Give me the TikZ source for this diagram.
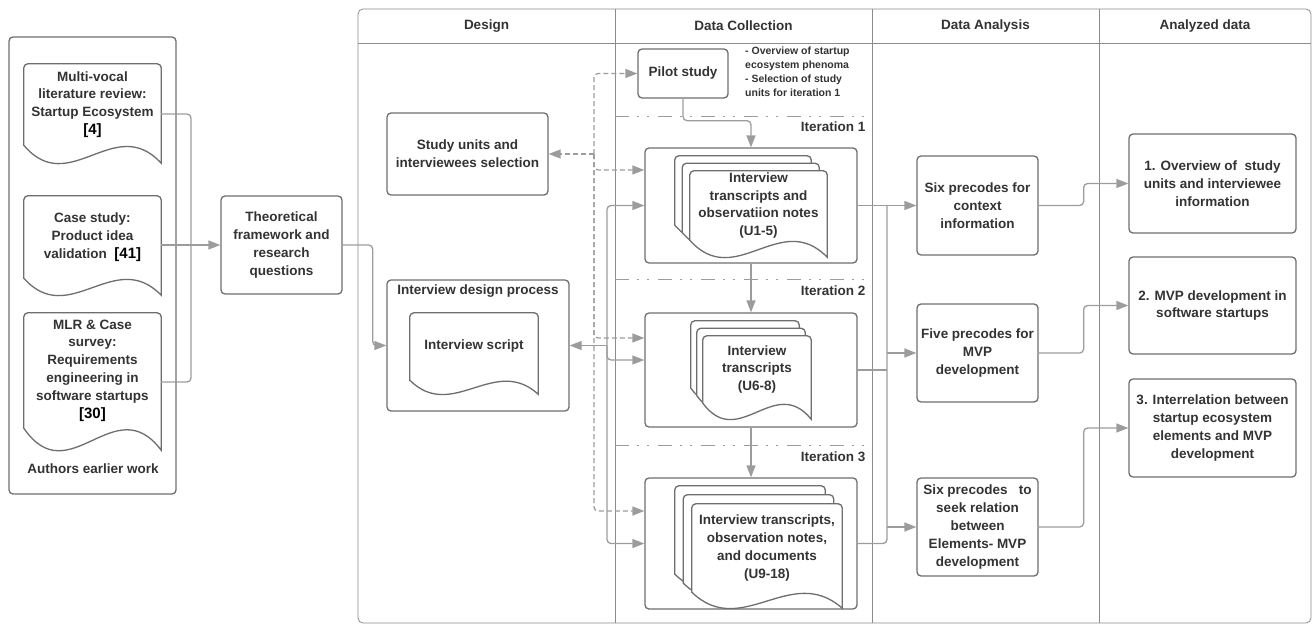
\documentclass[tikz,border=0pt]{standalone}
\usepackage{fontspec}
\setmainfont{Liberation Sans}
\usetikzlibrary{arrows.meta,calc}
\definecolor{txt}{HTML}{333333}
\definecolor{boxc}{HTML}{6E6E6E}
\definecolor{lnc}{HTML}{9C9C9C}
\definecolor{lanec}{HTML}{8C8C8C}
\tikzset{
  every node/.style={font=\fontsize{13.5}{17.8}\selectfont\bfseries, text=txt},
  box/.style={draw=boxc, line width=1.3pt, rounded corners=4pt, fill=white, align=center, inner sep=2pt},
  docnode/.style={draw=none, align=center, inner sep=0pt},
  docsty/.style={draw=boxc, line width=1.3pt, fill=white},
  line/.style={draw=lnc, line width=1.3pt},
  arrow/.style={line, -{Triangle[length=12pt,width=9pt]}},
  darrow/.style={arrow, dash pattern=on 5pt off 3pt},
  lane/.style={draw=lanec, line width=0.8pt},
  iter/.style={draw=lnc, line width=1pt, dash pattern=on 14pt off 8pt on 2pt off 8pt on 2pt off 9pt},
  small/.style={font=\fontsize{10.5}{14}\selectfont\bfseries, align=left, inner sep=0pt},
}
\newcommand\refnum[1]{{\fontsize{15}{17.8}\selectfont\color{black}#1}}
\newcommand\docshape[2]{%
  \draw[docsty] (#1.south west) [rounded corners=4pt] -- (#1.north west) -- (#1.north east) [sharp corners] -- ($(#1.south east)+(0,#2)$)
    .. controls ($(#1.south west)!0.66!(#1.south east)+(0,-1.83*#2)$) and ($(#1.south west)!0.33!(#1.south east)+(0,3.0*#2)$) .. (#1.south west) -- cycle;}
\newcommand\docnode[7]{%
  \node[docnode, minimum width=#4pt, minimum height=#5pt] (#1) at (#2,#3) {};
  \docshape{#1}{#6}
  \node[docnode] (#1-t) at (#1) {#7};}
\begin{document}
\begin{tikzpicture}[x=1pt,y=-1pt]
\useasboundingbox (0,0) rectangle (1312,624);

% ---------- left column ----------
\node[draw=boxc, line width=1.3pt, rounded corners=4pt, minimum width=167pt, minimum height=457pt] (auth) at (92.5,265.5) {};
\node (authlbl) at (93,469) {Authors earlier work};
\docnode{d1}{92.5}{104.5}{137}{81}{18}{Multi-vocal\\literature review:\\Startup Ecosystem\\\refnum{[4]}}
\docnode{d2}{92.5}{237}{137}{82}{17}{Case study:\\Product idea\\validation\ \ \refnum{[41]}}
\docnode{d3}{92.5}{370.5}{137}{115}{22}{MLR \& Case\\survey:\\Requirements\\engineering in\\software startups\\\refnum{[30]}}
\node[box, minimum width=121pt, minimum height=98pt] (theo) at (281.5,245) {Theoretical\\framework and\\research\\questions};

% ---------- swimlanes ----------
\node[draw=lanec, line width=0.8pt, rounded corners=5pt, minimum width=953pt, minimum height=614pt] (lanes) at (834.5,316) {};
\draw[lane] (358,43) -- (1311,43);
\draw[lane] (615,9) -- (615,623);
\draw[lane] (872,9) -- (872,623);
\draw[lane] (1099,9) -- (1099,623);
\node (h1) at (486.5,26) {Design};
\node (h2) at (743.5,26) {Data Collection};
\node (h3) at (985.5,26) {Data Analysis};
\node (h4) at (1205,26) {Analyzed data};

% iteration separators
\draw[iter] (615,116) -- (872,116);
\draw[iter] (615,279) -- (872,279);
\draw[iter] (615,445) -- (872,445);
\node[anchor=east] (it1l) at (869,127) {Iteration 1};
\node[anchor=east] (it2l) at (869,291) {Iteration 2};
\node[anchor=east] (it3l) at (869,457) {Iteration 3};

% ---------- design ----------
\node[box, minimum width=161pt, minimum height=82pt] (study) at (467.5,154) {Study units and\\interviewees selection};
\node[box, minimum width=182pt, minimum height=131pt] (idp) at (478,345.5) {};
\node (idpt) at (478,291) {Interview design process};
\docnode{script}{474}{346.5}{128}{67}{14}{Interview script}

% ---------- data collection ----------
\node[box, minimum width=90pt, minimum height=49pt] (pilot) at (683,73.5) {Pilot study};
\node[small, anchor=west] (note) at (745,72) {- Overview of startup\\ecosystem phenoma\\- Selection of study\\units for iteration 1};

\node[box, minimum width=212pt, minimum height=115pt] (it1) at (751,205.5) {};
\docnode{it1a}{743}{190.5}{136}{69}{17}{}
\docnode{it1b}{750.75}{198}{136.5}{69}{17}{}
\docnode{it1c}{758.5}{205.5}{137}{69}{17}{Interview\\transcripts and\\observatiion notes\\(U1-5)}

\node[box, minimum width=212pt, minimum height=114pt] (it2) at (751,370) {};
\docnode{it2a}{745}{354.5}{108}{67}{16}{}
\docnode{it2b}{751}{362}{108}{67}{16}{}
\docnode{it2c}{757}{369.5}{108}{67}{16}{Interview\\transcripts\\(U6-8)}

\node[box, minimum width=212pt, minimum height=131pt] (it3) at (751,543.5) {};
\docnode{it3a}{750}{530}{150}{88}{16}{}
\docnode{it3b}{758.5}{539}{150}{88}{16}{}
\docnode{it3c}{767}{548}{150}{88}{16}{Interview transcripts,\\observation notes,\\and documents\\(U9-18)}

% ---------- data analysis ----------
\node[box, minimum width=121pt, minimum height=99pt] (ctx) at (977.5,205.5) {Six precodes for\\context\\information};
\node[box, minimum width=121pt, minimum height=98pt] (mvp) at (977.5,353) {Five precodes for\\MVP\\development};
\node[box, minimum width=121pt, minimum height=98pt] (rel) at (977.5,527) {Six precodes\ \ \ to\\seek relation\\between\\Elements- MVP\\development};

% ---------- analyzed data ----------
\node[box, minimum width=167pt, minimum height=99pt] (out1) at (1212.5,183.5) {1. Overview of\ \ study\\units and interviewee\\information};
\node[box, minimum width=167pt, minimum height=97pt] (out2) at (1212.5,305.5) {2. MVP development in\\software startups};
\node[box, minimum width=167pt, minimum height=98pt] (out3) at (1212.5,428) {3. Interrelation between\\startup ecosystem\\elements and MVP\\development};

% ---------- connectors ----------
\coordinate (j1) at (191,245);
\draw[line, rounded corners=4pt] ([yshift=-9.5pt]d1.east) -| (j1);
\draw[line, rounded corners=4pt] ([yshift=-11.5pt]d3.east) -| (j1);
\draw[arrow] (d2.east |- theo.west) -- (theo.west);
\draw[arrow, rounded corners=4pt] (theo.east) -- ++(30,0) |- (idp.west);

\draw[arrow, rounded corners=4pt] (pilot.south) -- ++(0,22) -| (it1.north);
\draw[arrow] (it1.south) -- (it2.north);
\draw[arrow] (it2.south) -- (it3.north);

\coordinate (dj) at (594,154);
\draw[darrow] (dj) -- (study.east);
\draw[darrow, rounded corners=4pt] (dj) |- (pilot.west);
\draw[darrow, rounded corners=4pt] (dj) |- ([yshift=35.5pt]it1.west);
\draw[darrow, rounded corners=4pt] (dj) |- ([yshift=32pt]it2.west);
\draw[darrow, rounded corners=4pt] (dj) |- ([yshift=32.5pt]it3.west);

\coordinate (sj) at (607,345.5);
\draw[arrow] (sj) -- (idp.east);
\draw[arrow, rounded corners=4pt] (sj) |- (it1.west);
\draw[arrow, rounded corners=4pt] (sj) |- ([yshift=10pt]it2.west);
\draw[arrow, rounded corners=4pt] (sj) |- (it3.west);

\coordinate (aj) at (887,205.5);
\draw[arrow] (it1.east) -- (ctx.west);
\draw[line, rounded corners=4pt] (it3.east) -| (aj);
\draw[line] (it2.east) -- (it2.east -| aj);
\draw[arrow] (aj |- mvp.west) -- (mvp.west);
\draw[arrow] (aj |- rel.west) -- (rel.west);

\draw[arrow, rounded corners=4pt] (ctx.east) -- ++(45,0) |- (out1.west);
\draw[arrow, rounded corners=4pt] (mvp.east) -- ++(45,0) |- (out2.west);
\draw[arrow, rounded corners=4pt] (rel.east) -- ++(45,0) |- (out3.west);
\end{tikzpicture}
\end{document}
